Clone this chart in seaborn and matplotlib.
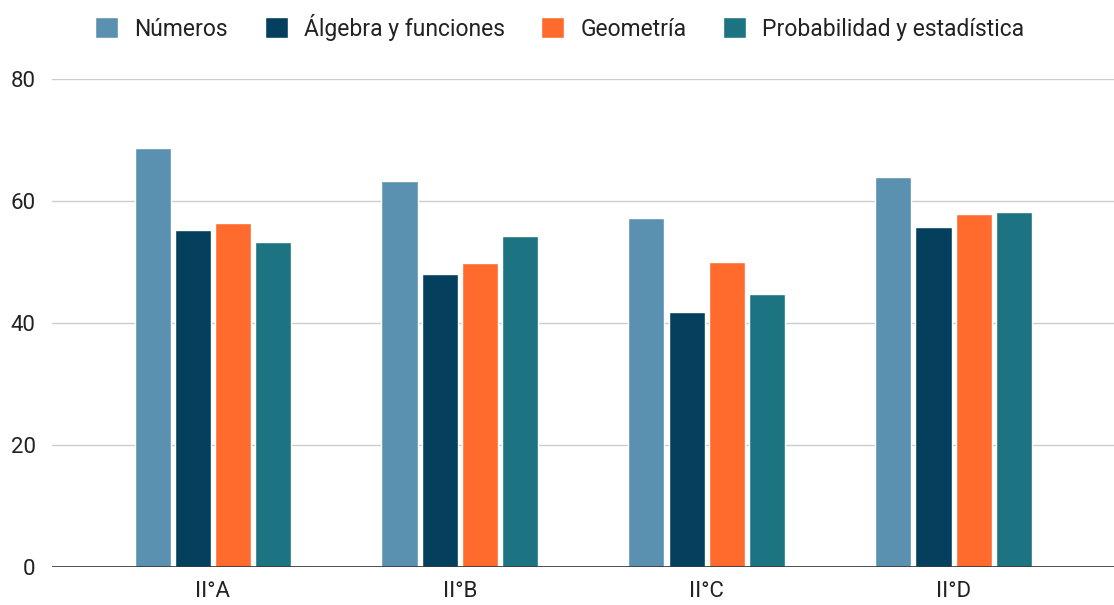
import pandas as pd
import matplotlib.pyplot as plt
import seaborn as sns

# Values
cursos = ["II°A", "II°B", "II°C", "II°D"]
ejes = ["Números", "Álgebra y funciones", "Geometría", "Probabilidad y estadística"]
numeros = [68.7, 63.3, 57.2, 63.9]
algebra = [55.2, 48.0, 41.8, 55.7]
geometria = [56.4, 49.8, 50.0, 57.9]
probabilidad = [53.3, 54.3, 44.7, 58.2]
colores = ["#5b91b0", "#04405e", "#ff6b2c", "#1c7483"]

df = pd.DataFrame({
    "curso": cursos * 4,
    "eje": [e for e in ejes for _ in cursos],
    "valor": numeros + algebra + geometria + probabilidad,
})

sns.set_style("white")
plt.rcParams["font.family"] = ["Roboto", "DejaVu Sans"]

fig = plt.figure(figsize=(11.14, 6.05), dpi=100)
ax = fig.add_axes([0.047, 0.063, 0.953, 0.806])

sns.barplot(data=df, x="curso", y="valor", hue="eje", hue_order=ejes,
            palette=colores, width=0.65, gap=0.1, saturation=1,
            errorbar=None, ax=ax)

ax.set_ylim(0, 80)
ax.set_xlim(-0.65, 3.65)
ax.set_yticks([0, 20, 40, 60, 80])
ax.yaxis.grid(True, color="#cccccc", linewidth=1)
ax.set_axisbelow(True)
ax.axhline(0, color="#333333", linewidth=1.2)
for s in ax.spines.values():
    s.set_visible(False)
ax.tick_params(axis="both", length=0, labelsize=16, colors="#222222")
ax.tick_params(axis="x", pad=10)
ax.tick_params(axis="y", pad=12)
ax.set_xlabel("")
ax.set_ylabel("")

ax.legend(loc="center", bbox_to_anchor=(0.478, 1.107), ncol=4, frameon=False,
          fontsize=16.5, handlelength=1.0, handleheight=1.0, handletextpad=0.7,
          columnspacing=1.6, labelcolor="#222222")

fig.savefig("out.png", dpi=100)
